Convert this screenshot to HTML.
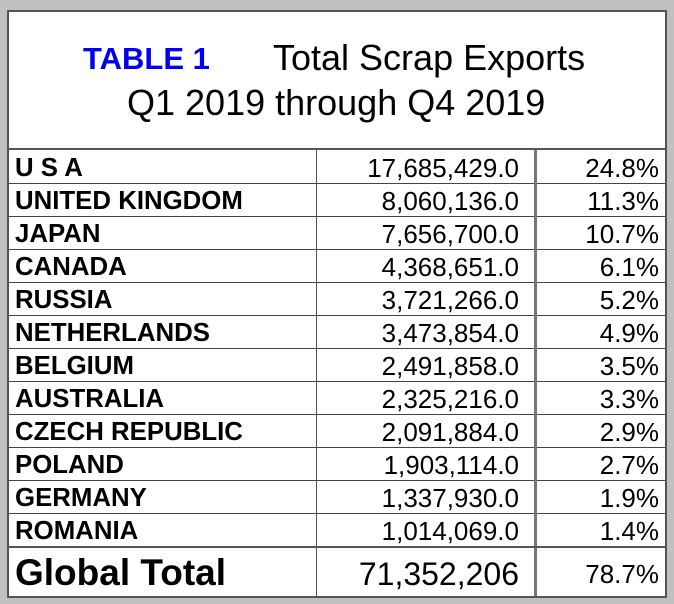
<!DOCTYPE html>
<html><head><meta charset="utf-8"><style>
body{margin:0;width:674px;height:604px;background:#c0c0c0;font-family:"Liberation Sans",Arial,sans-serif;position:relative;overflow:hidden}
#box{position:absolute;left:7px;top:10px;width:656px;height:584px;background:#fff;border:2px solid #555;box-sizing:content-box}
#title{position:absolute;left:0;top:0;width:656px;height:136px;border-bottom:2px solid #555}
.t{position:absolute;white-space:nowrap;font-size:36px;color:#000}
.row{position:absolute;left:0;width:656px;height:33px}
.c{position:absolute;top:0;height:33px;line-height:36px;font-size:26px;white-space:nowrap}
.vl{position:absolute;background:#555}
.hl{position:absolute;left:0;width:656px;height:1px;background:#444}
</style></head><body>
<div id="box">
 <div id="title">
  <div class="t" style="left:74px;top:29px;color:#0000ee;font-weight:bold;font-size:31px">TABLE 1</div>
  <div class="t" style="left:264px;top:25px">Total Scrap Exports</div>
  <div class="t" style="left:118px;top:70px">Q1 2019 through Q4 2019</div>
 </div>
 <div id="rows"></div>
 <div class="vl" style="left:307px;top:138px;width:1px;height:446px"></div>
 <div class="vl" style="left:525px;top:138px;width:3px;height:446px;background:#777"></div>
 <div class="hl" style="top:534px;height:2px;background:#555"></div>
 <div class="row" style="top:536px;height:48px">
  <div class="c" style="left:6px;height:48px;line-height:50px;font-size:37px;font-weight:bold">Global Total</div>
  <div class="c" style="right:146px;height:48px;line-height:52px;font-size:32px">71,352,206</div>
  <div class="c" style="right:6px;height:48px;line-height:52px;font-size:26px">78.7%</div>
 </div>
</div>
<script>
const countries=["U S A","UNITED KINGDOM","JAPAN","CANADA","RUSSIA","NETHERLANDS","BELGIUM","AUSTRALIA","CZECH REPUBLIC","POLAND","GERMANY","ROMANIA"];
const values=["17,685,429.0","8,060,136.0","7,656,700.0","4,368,651.0","3,721,266.0","3,473,854.0","2,491,858.0","2,325,216.0","2,091,884.0","1,903,114.0","1,337,930.0","1,014,069.0"];
const shares=["24.8%","11.3%","10.7%","6.1%","5.2%","4.9%","3.5%","3.3%","2.9%","2.7%","1.9%","1.4%"];
const box=document.getElementById('rows');
countries.forEach((c,i)=>{
 const r=document.createElement('div');r.className='row';r.style.top=(138+i*33)+'px';
 
 
 const a=document.createElement('div');a.className='c';a.style.left='6px';a.style.fontWeight='bold';a.style.fontSize='25.8px';a.textContent=c;
 
 
 const b=document.createElement('div');b.className='c';b.style.right='146px';b.textContent=values[i];
 
 
 const s=document.createElement('div');s.className='c';s.style.right='6px';s.textContent=shares[i];
 
 
 r.append(a,b,s);
 if(i>0){const l=document.createElement('div');l.className='hl';l.style.top='0';
 
 
 r.append(l);}
 box.append(r);
});
</script>
</body></html>
